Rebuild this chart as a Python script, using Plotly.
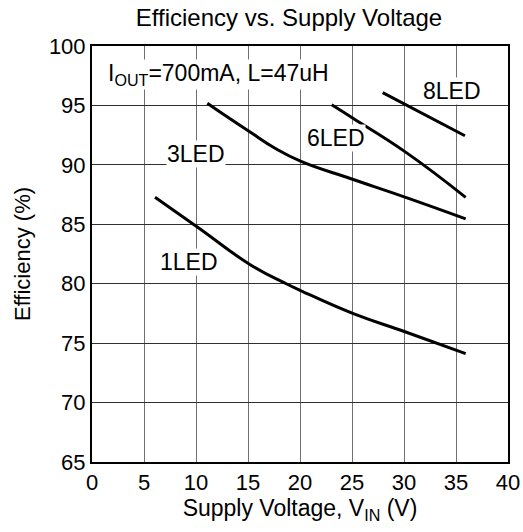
import plotly.graph_objects as go

led1_v = [6.06, 10.16, 15.22, 18.56, 20.16, 25.13, 30.16, 35.93]
led1_eff = [87.27, 84.75, 81.6, 80.05, 79.38, 77.48, 75.94, 74.12]

led3_v = [11.09, 13.1, 15.13, 17.6, 20.1, 24.97, 30.16, 35.93]
led3_eff = [95.19, 93.98, 92.8, 91.4, 90.29, 88.81, 87.27, 85.46]

led6_v = [23.05, 25.13, 30.19, 35.93]
led6_eff = [95.05, 93.9, 91.05, 87.27]

led8_v = [27.95, 35.86]
led8_eff = [96.08, 92.45]

labels = ["1LED", "3LED", "6LED", "8LED"]
label_x = [9.3, 10.0, 23.5, 34.6]
label_y = [81.8, 90.9, 92.3, 96.2]

x_ticks = [0, 5, 10, 15, 20, 25, 30, 35, 40]
y_ticks = [65, 70, 75, 80, 85, 90, 95, 100]

FONT = "Liberation Sans, Arial, sans-serif"

fig = go.Figure()
for vx, vy in [(led1_v, led1_eff), (led3_v, led3_eff), (led6_v, led6_eff), (led8_v, led8_eff)]:
    fig.add_trace(go.Scatter(x=vx, y=vy, mode="lines",
                             line=dict(color="black", width=3, shape="spline", smoothing=1.3),
                             showlegend=False, hoverinfo="skip"))

for t, x, y in zip(labels, label_x, label_y):
    fig.add_annotation(x=x, y=y, text=t, showarrow=False, bgcolor="white",
                       font=dict(family=FONT, size=23, color="black"), borderpad=0)

fig.add_annotation(x=1.41, y=97.62, xanchor="left", text="I<sub>OUT</sub>=700mA, L=47uH", showarrow=False,
                   bgcolor="white", font=dict(family=FONT, size=23, color="black"), borderpad=0)

fig.update_layout(
    width=523, height=532,
    margin=dict(l=92, r=15, t=46, b=70, autoexpand=False),
    paper_bgcolor="white", plot_bgcolor="white",
    font=dict(family=FONT, color="black"),
    title=dict(text="Efficiency vs. Supply Voltage", x=289 / 523, xref="container", xanchor="center",
               y=1 - 18 / 532, yref="container", yanchor="middle",
               font=dict(family=FONT, size=24, color="black")),
)
fig.update_xaxes(range=[0, 40], tickvals=x_ticks, showgrid=True, gridcolor="#707070", gridwidth=1,
                 showline=True, linecolor="black", linewidth=2, mirror=True, ticks="",
                 tickfont=dict(family=FONT, size=22), zeroline=False, automargin=False,
                 title=dict(text="Supply Voltage, V<sub>IN</sub> (V)", font=dict(family=FONT, size=23), standoff=5))
fig.update_yaxes(range=[65, 100], tickvals=y_ticks, showgrid=True, gridcolor="#303030", gridwidth=1,
                 showline=True, linecolor="black", linewidth=2, mirror=True, ticks="",
                 tickfont=dict(family=FONT, size=22), zeroline=False, automargin=False,
                 title=dict(text="Efficiency (%)", font=dict(family=FONT, size=22), standoff=12))

fig.write_html("out.html", config={"displayModeBar": False},
               post_script="document.body.style.margin='0px';")
